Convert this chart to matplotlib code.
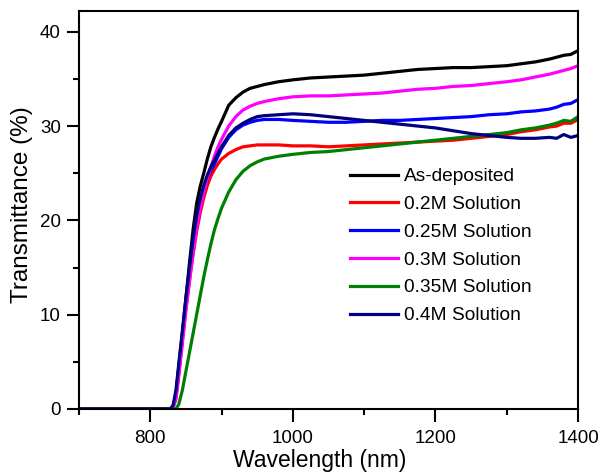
import matplotlib
matplotlib.use("Agg")
import matplotlib.pyplot as plt
from matplotlib.ticker import MultipleLocator

plt.rcParams['font.family'] = ['Liberation Sans', 'DejaVu Sans']

# Wavelength grid (nm)
wavelength = [700, 828, 832, 836, 840, 845, 850, 855, 860, 865, 870, 875, 880,
              885, 890, 895, 900, 910, 920, 930, 940, 950, 960, 980, 1000,
              1025, 1050, 1075, 1100, 1125, 1150, 1175, 1200, 1225, 1250,
              1275, 1300, 1320, 1340, 1360, 1370, 1380, 1390, 1400]

# Transmittance (%) for each film
as_deposited = [0, 0, 0.3, 1.5, 4.5, 8.0, 11.8, 15.5, 19.0, 21.8, 23.6, 25.0,
                26.5, 27.8, 28.8, 29.7, 30.5, 32.2, 33.0, 33.6, 34.0, 34.2,
                34.4, 34.7, 34.9, 35.1, 35.2, 35.3, 35.4, 35.6, 35.8, 36.0,
                36.1, 36.2, 36.2, 36.3, 36.4, 36.6, 36.8, 37.1, 37.3, 37.5,
                37.6, 38.0]
sol_02 = [0, 0, 0.2, 1.2, 3.8, 7.2, 10.6, 13.7, 16.4, 18.8, 20.8, 22.4, 23.7,
          24.7, 25.4, 26.0, 26.5, 27.1, 27.5, 27.8, 27.9, 28.0, 28.0, 28.0,
          27.9, 27.9, 27.8, 27.9, 28.0, 28.1, 28.2, 28.3, 28.4, 28.5, 28.7,
          28.9, 29.1, 29.4, 29.6, 29.9, 30.0, 30.3, 30.3, 30.7]
sol_025 = [0, 0, 0.3, 1.5, 4.3, 7.8, 11.3, 14.6, 17.5, 20.0, 21.9, 23.3, 24.4,
           25.3, 26.0, 26.8, 27.6, 28.8, 29.6, 30.1, 30.4, 30.6, 30.7, 30.7,
           30.6, 30.5, 30.4, 30.4, 30.5, 30.6, 30.6, 30.7, 30.8, 30.9, 31.0,
           31.2, 31.3, 31.5, 31.6, 31.8, 32.0, 32.3, 32.4, 32.8]
sol_03 = [0, 0, 0.2, 1.0, 3.5, 7.0, 10.5, 13.5, 16.5, 19.2, 21.3, 23.0, 24.4,
          25.6, 26.8, 27.8, 28.6, 30.0, 31.0, 31.7, 32.1, 32.4, 32.6, 32.9,
          33.1, 33.2, 33.2, 33.3, 33.4, 33.5, 33.7, 33.9, 34.0, 34.2, 34.3,
          34.5, 34.7, 34.9, 35.2, 35.5, 35.7, 35.9, 36.1, 36.4]
sol_035 = [0, 0, 0, 0, 0.5, 2.0, 4.0, 6.0, 8.0, 10.0, 12.0, 14.0, 15.8,
           17.5, 19.0, 20.2, 21.3, 23.0, 24.3, 25.2, 25.8, 26.2, 26.5, 26.8,
           27.0, 27.2, 27.3, 27.5, 27.7, 27.9, 28.1, 28.3, 28.5, 28.7, 28.9,
           29.1, 29.3, 29.6, 29.8, 30.1, 30.3, 30.6, 30.5, 31.0]
sol_04 = [0, 0, 0.4, 2.0, 4.8, 8.3, 11.8, 15.0, 18.0, 20.5, 22.3, 23.7, 24.8,
          25.7, 26.4, 27.1, 27.8, 29.0, 29.8, 30.3, 30.7, 31.0, 31.1, 31.2,
          31.3, 31.2, 31.0, 30.8, 30.6, 30.4, 30.2, 30.0, 29.8, 29.5, 29.2,
          29.0, 28.8, 28.7, 28.7, 28.8, 28.7, 29.1, 28.8, 29.0]

series = [
    ("As-deposited", as_deposited, "#000000"),
    ("0.2M Solution", sol_02, "#ff0000"),
    ("0.25M Solution", sol_025, "#0000ff"),
    ("0.3M Solution", sol_03, "#ff00ff"),
    ("0.35M Solution", sol_035, "#008000"),
    ("0.4M Solution", sol_04, "#000080"),
]

fig = plt.figure(figsize=(6.04, 4.76), dpi=100)
ax = fig.add_axes([0.1308, 0.1408, 0.8262, 0.8361])

for label, values, color in series:
    ax.plot(wavelength, values, color=color, lw=2.3, label=label)

ax.set_xlim(700, 1400)
ax.set_ylim(0, 42.2)
ax.xaxis.set_major_locator(MultipleLocator(200))
ax.xaxis.set_minor_locator(MultipleLocator(100))
ax.yaxis.set_major_locator(MultipleLocator(10))
ax.yaxis.set_minor_locator(MultipleLocator(5))

for side in ax.spines.values():
    side.set_linewidth(1.5)
ax.tick_params(which='major', direction='out', length=9, width=1.5,
               labelsize=13.5, pad=4)
ax.tick_params(axis='x', which='major', pad=6)
ax.tick_params(which='minor', direction='out', length=4.5, width=1.5)

ax.set_xlabel("Wavelength (nm)", fontsize=16.5)
ax.set_ylabel("Transmittance (%)", fontsize=17.5)
ax.xaxis.set_label_coords(0.483, -0.100)
ax.yaxis.set_label_coords(-0.093, 0.513)

ax.legend(loc='upper left', bbox_to_anchor=(350 / 604, 1 - 168 / 476),
          bbox_transform=fig.transFigure, frameon=False, fontsize=13.8,
          handlelength=2.5, handletextpad=0.33, labelspacing=0.54,
          borderpad=0, borderaxespad=0)

fig.savefig("out.png", dpi=100)
